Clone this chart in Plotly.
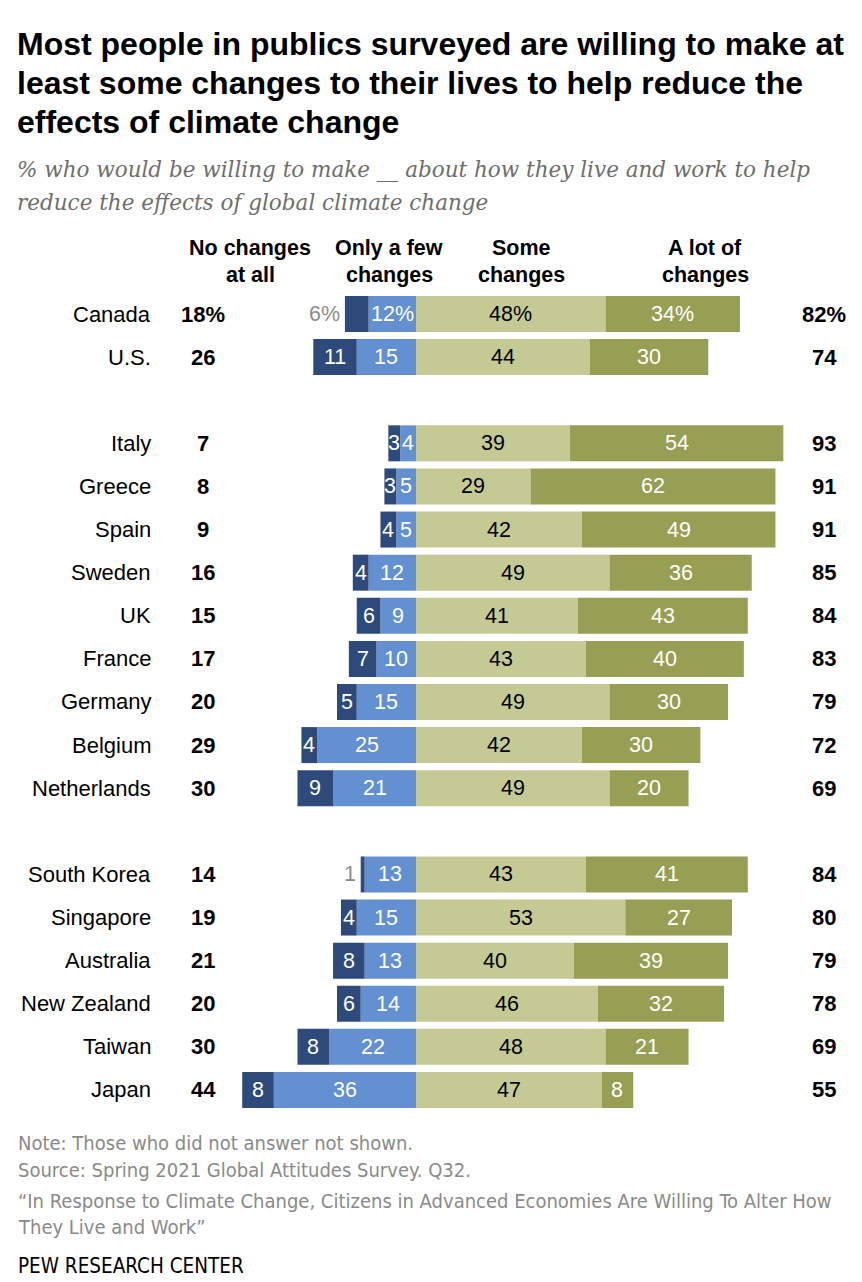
import plotly.graph_objects as go

countries = ["Canada", "U.S.", "Italy", "Greece", "Spain", "Sweden", "UK", "France",
             "Germany", "Belgium", "Netherlands", "South Korea", "Singapore",
             "Australia", "New Zealand", "Taiwan", "Japan"]
rows = [0, 1, 3, 4, 5, 6, 7, 8, 9, 10, 11, 13, 14, 15, 16, 17, 18]
no_changes = [6, 11, 3, 3, 4, 4, 6, 7, 5, 4, 9, 1, 4, 8, 6, 8, 8]
few_changes = [12, 15, 4, 5, 5, 12, 9, 10, 15, 25, 21, 13, 15, 13, 14, 22, 36]
some_changes = [48, 44, 39, 29, 42, 49, 41, 43, 49, 42, 49, 43, 53, 40, 46, 48, 47]
lot_changes = [34, 30, 54, 62, 49, 36, 43, 40, 30, 30, 20, 41, 27, 39, 32, 21, 8]
left_totals = [18, 26, 7, 8, 9, 16, 15, 17, 20, 29, 30, 14, 19, 21, 20, 30, 44]
right_totals = [82, 74, 93, 91, 91, 85, 84, 83, 79, 72, 69, 84, 80, 79, 78, 69, 55]
dark_outside = ["Canada", "South Korea"]

W, H = 862, 1282
CX = 416.0          # pixel of zero
PPU = 3.95          # pixels per percentage point
ROW0 = 314.0        # pixel of first row
ROWH = 43.11        # pixels per row

C_DARK = "#2D4A7B"
C_LIGHT = "#6290D0"
C_KHAKI = "#C5CA95"
C_OLIVE = "#979F55"

SANS = "Liberation Sans, Arial, sans-serif"
COND = "Liberation Sans Narrow, DejaVu Sans Condensed, Arial Narrow, sans-serif"

def px(x):
    return x / W

def py(y):
    return 1 - y / H

def lab(v, i):
    return f"{v}%" if i == 0 else f"{v}"

fig = go.Figure()
bw = 36 / ROWH
fig.add_trace(go.Bar(y=rows, x=[-v for v in few_changes], orientation="h",
                     marker=dict(color=C_LIGHT, line_width=0), width=bw, hoverinfo="skip"))
fig.add_trace(go.Bar(y=rows, x=[-v for v in no_changes], base=[-v for v in few_changes],
                     orientation="h", marker=dict(color=C_DARK, line_width=0), width=bw,
                     hoverinfo="skip"))
fig.add_trace(go.Bar(y=rows, x=some_changes, orientation="h",
                     marker=dict(color=C_KHAKI, line_width=0), width=bw, hoverinfo="skip"))
fig.add_trace(go.Bar(y=rows, x=lot_changes, base=some_changes, orientation="h",
                     marker=dict(color=C_OLIVE, line_width=0), width=bw, hoverinfo="skip"))

ann = []
NUMF = dict(family=SANS, size=21.5)
for i, c in enumerate(countries):
    r = rows[i]
    ann.append(dict(x=px(153), xref="paper", y=r, yref="y", text=c, showarrow=False,
                    xanchor="right", yanchor="middle",
                    font=dict(family=SANS, size=22, color="#000")))
    ann.append(dict(x=px(203), xref="paper", y=r, yref="y", text=f"<b>{lab(left_totals[i], i)}</b>",
                    showarrow=False, xanchor="center", yanchor="middle",
                    font=dict(family=SANS, size=22, color="#000")))
    ann.append(dict(x=px(824), xref="paper", y=r, yref="y", text=f"<b>{lab(right_totals[i], i)}</b>",
                    showarrow=False, xanchor="center", yanchor="middle",
                    font=dict(family=SANS, size=22, color="#000")))
    if c in dark_outside:
        ann.append(dict(x=-(few_changes[i] + no_changes[i]) - 0.8, y=r, text=lab(no_changes[i], i),
                        showarrow=False, xanchor="right", yanchor="middle",
                        font=dict(NUMF, color="#8C8C8C")))
    else:
        ann.append(dict(x=-(few_changes[i] + no_changes[i] / 2), y=r, text=lab(no_changes[i], i),
                        showarrow=False, xanchor="center", yanchor="middle",
                        font=dict(NUMF, color="#FFFFFF")))
    ann.append(dict(x=-few_changes[i] / 2, y=r, text=lab(few_changes[i], i), showarrow=False,
                    xanchor="center", yanchor="middle", font=dict(NUMF, color="#FFFFFF")))
    ann.append(dict(x=some_changes[i] / 2, y=r, text=lab(some_changes[i], i), showarrow=False,
                    xanchor="center", yanchor="middle", font=dict(NUMF, color="#000000")))
    ann.append(dict(x=some_changes[i] + lot_changes[i] / 2, y=r, text=lab(lot_changes[i], i),
                    showarrow=False, xanchor="center", yanchor="middle",
                    font=dict(NUMF, color="#FFFFFF")))

HF = dict(family=SANS, size=21.5, color="#000")
headers = [(250, "No changes", "at all"), (389, "Only a few", "changes"),
           (521, "Some", "changes"), (705, "A lot of", "changes")]
for x, t1, t2 in headers:
    for yy, t in ((248, t1), (275, t2)):
        ann.append(dict(x=px(x), y=py(yy), xref="paper", yref="paper", text=f"<b>{t}</b>",
                        showarrow=False, xanchor="center", yanchor="middle", font=HF))

title_lines = ["Most people in publics surveyed are willing to make at",
               "least some changes to their lives to help reduce the",
               "effects of climate change"]
for k, t in enumerate(title_lines):
    ann.append(dict(x=px(15), y=py(44 + 39 * k), xref="paper", yref="paper", text=f"<b>{t}</b>",
                    showarrow=False, xanchor="left", yanchor="middle",
                    font=dict(family=SANS, size=32, color="#000")))

sub_lines = ["% who would be willing to make __ about how they live and work to help",
             "reduce the effects of global climate change"]
for k, t in enumerate(sub_lines):
    ann.append(dict(x=px(15), y=py(170 + 32 * k), xref="paper", yref="paper", text=f"<i>{t}</i>",
                    showarrow=False, xanchor="left", yanchor="middle",
                    font=dict(family="DejaVu Serif, serif", size=21.5, color="#6E6E6E")))

notes = [(1143, "Note: Those who did not answer not shown."),
         (1170, "Source: Spring 2021 Global Attitudes Survey. Q32."),
         (1201, "“In Response to Climate Change, Citizens in Advanced Economies Are Willing To Alter How"),
         (1227, "They Live and Work”")]
for y, t in notes:
    ann.append(dict(x=px(16), y=py(y), xref="paper", yref="paper", text=t, showarrow=False,
                    xanchor="left", yanchor="middle",
                    font=dict(family=COND, size=20, color="#8A8A8A")))
ann.append(dict(x=px(16), y=py(1266), xref="paper", yref="paper", text="PEW RESEARCH CENTER",
                showarrow=False, xanchor="left", yanchor="middle",
                font=dict(family=COND, size=20.5, color="#000")))

fig.update_layout(
    barmode="overlay",
    width=W, height=H,
    margin=dict(l=0, r=0, t=0, b=0),
    plot_bgcolor="white", paper_bgcolor="white",
    showlegend=False,
    annotations=ann,
    xaxis=dict(range=[-CX / PPU, (W - CX) / PPU], visible=False, fixedrange=True),
    yaxis=dict(range=[(H - ROW0) / ROWH, -ROW0 / ROWH], visible=False, fixedrange=True),
)
fig.write_html("out.html")
